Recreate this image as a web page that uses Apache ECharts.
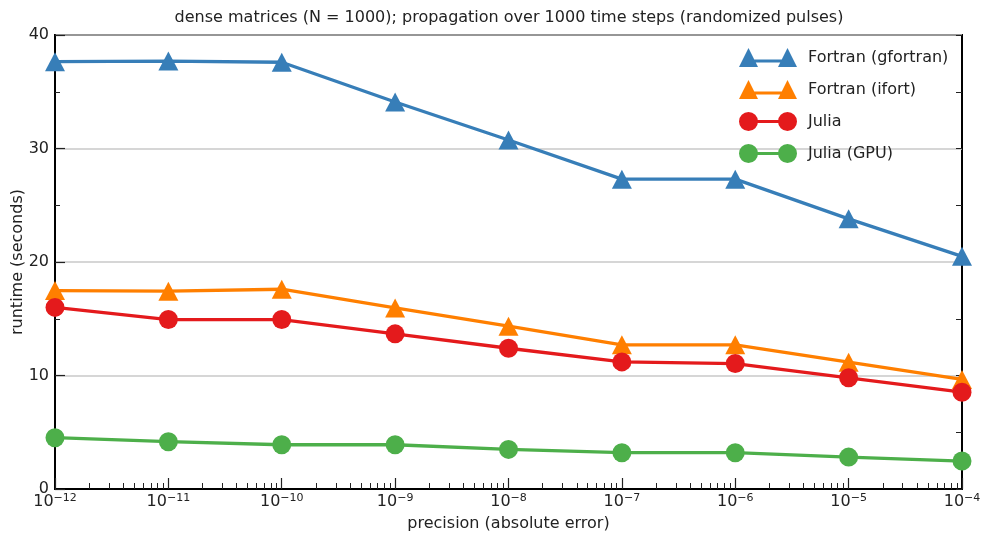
<!DOCTYPE html>
<html>
<head>
<meta charset="utf-8">
<title>runtime vs precision</title>
<script src="https://cdn.jsdelivr.net/npm/echarts@6/dist/echarts.min.js"></script>
<style>
  html, body { margin: 0; padding: 0; background: #fff; }
  #chart { width: 981px; height: 534px; }
</style>
</head>
<body>
<div id="chart"></div>
<script>
// precision values (x, log axis)
const precision = [1e-12, 1e-11, 1e-10, 1e-9, 1e-8, 1e-7, 1e-6, 1e-5, 1e-4]

// runtimes in seconds
const gfortran = [37.65, 37.7, 37.6, 34.1, 30.75, 27.3, 27.3, 23.8, 20.5]
const ifort = [17.48, 17.43, 17.6, 15.95, 14.34, 12.7, 12.7, 11.17, 9.65]
const julia = [16.0, 14.93, 14.93, 13.67, 12.4, 11.2, 11.05, 9.8, 8.53]
const juliaGpu = [4.52, 4.17, 3.9, 3.9, 3.49, 3.2, 3.2, 2.81, 2.46]

const seriesNames = ['Fortran (gfortran)', 'Fortran (ifort)', 'Julia', 'Julia (GPU)']
const colors = ['#377eb8', '#ff7f00', '#e41a1c', '#4daf4a']

// log minor ticks 2..9 x 10^n
const minorX = []
for (let e = -12; e < -4; e++) {
  for (let k = 2; k <= 9; k++) minorX.push(k * Math.pow(10, e))
}

const FONT = 'DejaVu Sans'
const INK = '#222'

// legend icons: two markers joined by a line (matplotlib numpoints = 2)
const triIcon = 'path://M0,20 L9.5,1 L19,20 Z M39,20 L48.5,1 L58,20 Z M9,12.5 L49,12.5 L49,15.5 L9,15.5 Z'
const dotIcon = 'path://M0,10 A9.5,9.5 0 1,1 19,10 A9.5,9.5 0 1,1 0,10 Z M39,10 A9.5,9.5 0 1,1 58,10 A9.5,9.5 0 1,1 39,10 Z M18.8,8.5 L39.2,8.5 L39.2,11.5 L18.8,11.5 Z'

function pairs(values) {
  return precision.map((p, i) => [p, values[i]])
}

function makeSeries(name, values, color, symbol, size) {
  return {
    name: name,
    type: 'line',
    data: pairs(values),
    symbol: symbol,
    symbolSize: size,
    showAllSymbol: true,
    clip: true,
    itemStyle: { color: color },
    lineStyle: { color: color, width: 3.3 },
    emphasis: { disabled: true },
    z: 3
  }
}

const chart = echarts.init(document.getElementById('chart'))

chart.setOption({
  animation: false,
  backgroundColor: '#fff',
  textStyle: { fontFamily: FONT },
  title: {
    text: 'dense matrices (N = 1000); propagation over 1000 time steps (randomized pulses)',
    left: 504,
    top: 5,
    textAlign: 'center',
    textStyle: { fontFamily: FONT, fontSize: 16, fontWeight: 'normal', color: INK }
  },
  legend: {
    orient: 'vertical',
    left: 739,
    top: 48,
    padding: 0,
    itemWidth: 58,
    itemHeight: 20,
    itemGap: 13,
    data: [
      { name: seriesNames[0], icon: triIcon },
      { name: seriesNames[1], icon: triIcon },
      { name: seriesNames[2], icon: dotIcon },
      { name: seriesNames[3], icon: dotIcon }
    ],
    textStyle: { fontFamily: FONT, fontSize: 16, color: INK, padding: [0, 0, 0, 6] }
  },
  grid: {
    left: 55,
    right: 19,
    top: 35,
    bottom: 45,
    outerBoundsMode: 'none',
    show: true,
    borderColor: '#000',
    borderWidth: 2,
    backgroundColor: 'transparent'
  },
  xAxis: [
    {
      type: 'log',
      logBase: 10,
      min: 1e-12,
      max: 1e-4,
      interval: 1,
      name: 'precision (absolute error)',
      nameLocation: 'middle',
      nameGap: 27,
      nameMoveOverlap: false,
      nameTextStyle: { fontFamily: FONT, fontSize: 16, color: INK },
      axisLine: { show: true, onZero: false, lineStyle: { color: '#000', width: 2 } },
      axisTick: { show: true, inside: true, length: 11, lineStyle: { color: INK, width: 1.2 } },
      minorTick: { show: false },
      splitLine: { show: false },
      axisLabel: {
        margin: 4,
        color: INK,
        formatter: function (v) {
          const e = Math.round(Math.log10(v))
          return '{b|10}{s|\u2212' + Math.abs(e) + '}'
        },
        rich: {
          b: { fontFamily: FONT, fontSize: 16, color: INK },
          s: { fontFamily: FONT, fontSize: 11, color: INK, verticalAlign: 'top', padding: [0, 0, 6, 0] }
        }
      }
    },
    {
      // minor ticks only
      type: 'log',
      logBase: 10,
      min: 1e-12,
      max: 1e-4,
      position: 'bottom',
      axisLine: { show: false },
      axisLabel: { show: false },
      splitLine: { show: false },
      axisTick: {
        show: true,
        inside: true,
        length: 6,
        customValues: minorX,
        lineStyle: { color: INK, width: 1 }
      }
    }
  ],
  yAxis: [
    {
      type: 'value',
      min: 0,
      max: 40,
      interval: 10,
      name: 'runtime (seconds)',
      nameLocation: 'middle',
      nameRotate: 90,
      nameGap: 29,
      nameMoveOverlap: false,
      nameTextStyle: { fontFamily: FONT, fontSize: 16, color: INK },
      axisLine: { show: true, lineStyle: { color: '#000', width: 2 } },
      axisTick: { show: true, inside: true, length: 10, lineStyle: { color: INK, width: 1.2 } },
      minorTick: { show: true, splitNumber: 2, length: 5, lineStyle: { color: INK, width: 1 } },
      splitLine: { show: true, lineStyle: { color: '#c8c8c8', width: 1.5 } },
      axisLabel: { fontFamily: FONT, fontSize: 16, color: INK, margin: 6 }
    },
    {
      // ticks on the right frame
      type: 'value',
      min: 0,
      max: 40,
      interval: 5,
      position: 'right',
      axisLine: { show: false },
      axisLabel: { show: false },
      splitLine: { show: false },
      axisTick: { show: true, inside: true, length: 6, lineStyle: { color: INK, width: 1 } }
    }
  ],
  series: [
    makeSeries(seriesNames[0], gfortran, colors[0], 'triangle', [20, 19]),
    makeSeries(seriesNames[1], ifort, colors[1], 'triangle', [20, 19]),
    makeSeries(seriesNames[2], julia, colors[2], 'circle', 19),
    makeSeries(seriesNames[3], juliaGpu, colors[3], 'circle', 19)
  ]
})
</script>
</body>
</html>
